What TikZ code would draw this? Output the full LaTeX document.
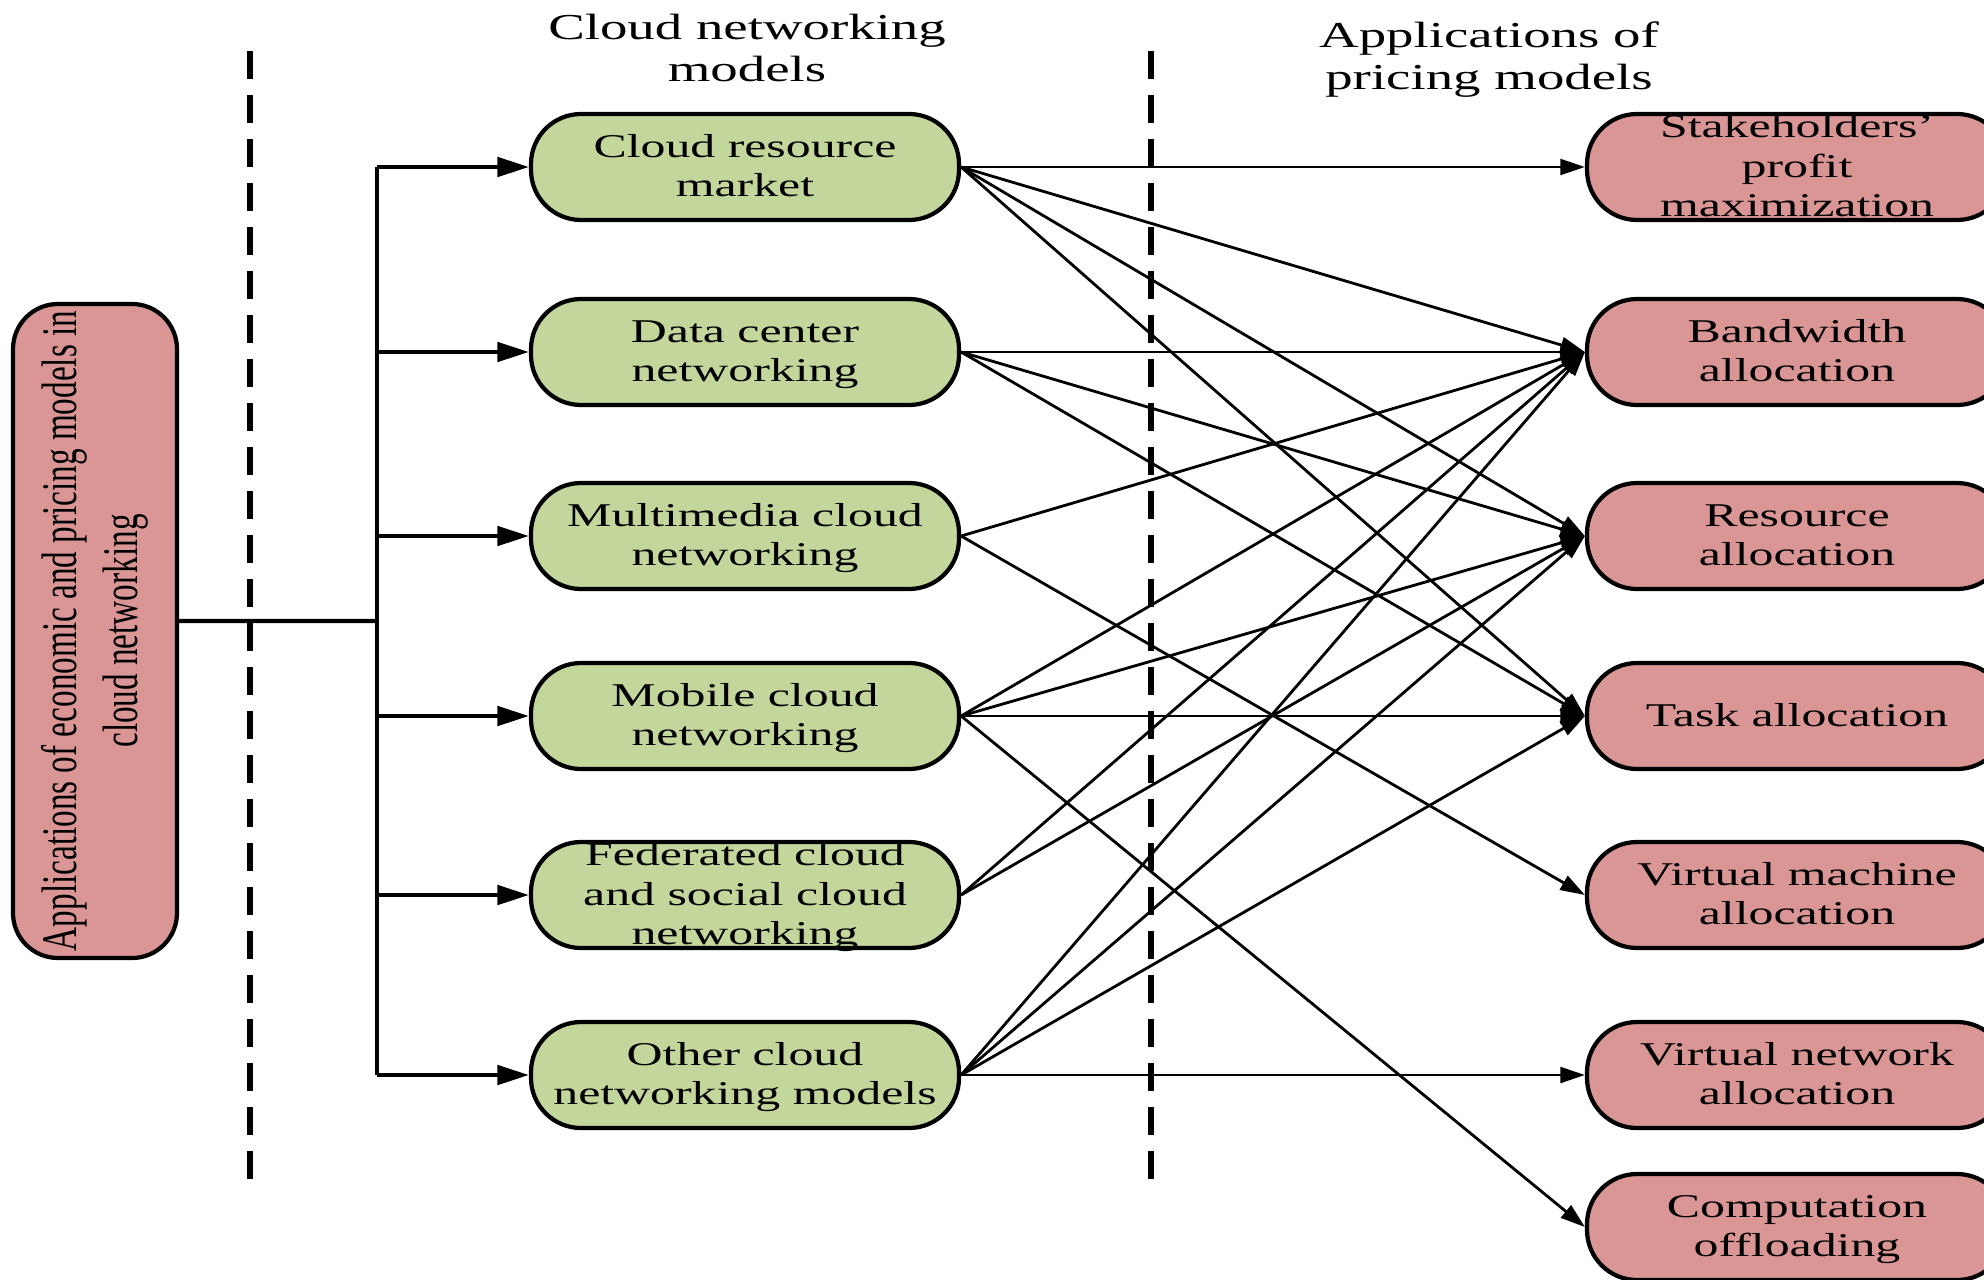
\documentclass[tikz,border=0pt]{standalone}
\usepackage{fontspec}
\setmainfont{Liberation Serif}
\usepackage{graphicx}
\usepackage{tikz}
\usetikzlibrary{arrows.meta}

\definecolor{gfill}{RGB}{195,214,155}
\definecolor{rfill}{RGB}{217,150,148}

\begin{document}
\begin{tikzpicture}[
		box/.style={draw, line width=1.2pt, rounded corners=0.5cm, inner sep=0pt,
			minimum width=4.28cm, minimum height=1.06cm},
		gbox/.style={box, fill=gfill},
		rbox/.style={box, fill=rfill, minimum width=4.2cm},
		link/.style={-{Triangle[length=7pt,width=4.5pt]}, line width=0.8pt},
		feed/.style={-{Triangle[length=9pt,width=5.5pt]}, line width=1.2pt},
		sep/.style={line width=1.8pt, dash pattern=on 0.28cm off 0.16cm}]
		\def\wt#1{\smash{\raisebox{-2.9pt}{\scalebox{1.5}[1]{\fontsize{9.45}{11.2}\selectfont
			\begin{tabular}{@{}c@{}}#1\end{tabular}}}}}
		\def\ttl#1{\scalebox{1.5}[1]{\fontsize{10.4}{12}\selectfont
			\begin{tabular}{@{}c@{}}#1\end{tabular}}}
		\clip (0,0) rectangle (19.84,-12.79);

		% titles
		\node (tmod) at (7.47,-0.52) {\ttl{Cloud networking\\ models}};
		\node (tapp) at (14.89,-0.60) {\ttl{Applications of\\ pricing models}};

		% separators
		\draw[sep] (2.50,-0.51) -- (2.50,-11.90);
		\draw[sep] (11.51,-0.51) -- (11.51,-11.90);

		% left box
		\node[box, fill=rfill, minimum width=1.64cm, minimum height=6.54cm,
			rounded corners=0.45cm] (app) at (0.95,-6.31)
			{\rotatebox{90}{\scalebox{1}[1.5]{\fontsize{9.45}{11.4}\selectfont
			\begin{tabular}{@{}c@{}}Applications of economic and pricing models in\\
			cloud networking\end{tabular}}}};

		% cloud networking models
		\node[gbox] (g1) at (7.45,-1.67) {\wt{Cloud resource\\market}};
		\node[gbox] (g2) at (7.45,-3.52) {\wt{Data center\\networking}};
		\node[gbox] (g3) at (7.45,-5.36) {\wt{Multimedia cloud\\networking}};
		\node[gbox] (g4) at (7.45,-7.16) {\wt{Mobile cloud\\networking}};
		\node[gbox] (g5) at (7.45,-8.95) {\wt{Federated cloud\\and social cloud\\networking}};
		\node[gbox] (g6) at (7.45,-10.75) {\wt{Other cloud\\networking models}};

		% applications
		\node[rbox] (r1) at (17.97,-1.67) {\wt{Stakeholders'\\profit\\maximization}};
		\node[rbox] (r2) at (17.97,-3.52) {\wt{Bandwidth\\allocation}};
		\node[rbox] (r3) at (17.97,-5.36) {\wt{Resource\\allocation}};
		\node[rbox] (r4) at (17.97,-7.16) {\wt{Task allocation}};
		\node[rbox] (r5) at (17.97,-8.95) {\wt{Virtual machine\\allocation}};
		\node[rbox] (r6) at (17.97,-10.75) {\wt{Virtual network\\allocation}};
		\node[rbox] (r7) at (17.97,-12.27) {\wt{Computation\\offloading}};

		% bus
		\coordinate (bus) at (3.77,-6.21);
		\draw[line width=1.2pt] ([yshift=0.1cm]app.east) -- (bus);
		\draw[line width=1.2pt] (bus |- g1.west) -- (bus |- g6.west);
		\foreach \g in {g1,g2,g3,g4,g5,g6}
			\draw[feed] (bus |- \g.west) -- (\g.west);

		% links
		\foreach \a/\b in {g1/r1, g1/r2, g1/r3, g1/r4,
				g2/r2, g2/r3, g2/r4,
				g3/r2, g3/r5,
				g4/r2, g4/r3, g4/r4, g4/r7,
				g5/r2, g5/r3,
				g6/r2, g6/r3, g6/r4, g6/r6}
			\draw[link] (\a.east) -- (\b.west);
	\end{tikzpicture}
\end{document}
